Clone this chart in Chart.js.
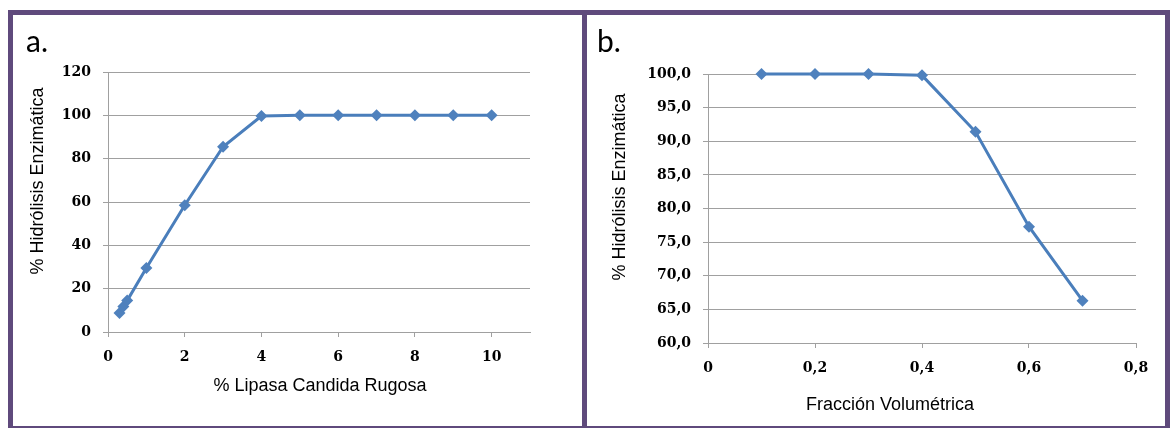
<!DOCTYPE html>
<html>
<head>
<meta charset="utf-8">
<script src="https://cdn.jsdelivr.net/npm/chart.js@4.4.1/dist/chart.umd.min.js"></script>
<style>
    html, body { margin: 0; padding: 0; background: #fff; }
    body { width: 1170px; height: 428px; position: relative; overflow: hidden; }
    .frame {
        position: absolute; left: 8px; top: 10px; width: 1162px; height: 421px;
        box-sizing: border-box; border: 5px solid #5f4a7c;
    }
    .divider { position: absolute; left: 582px; top: 10px; width: 5px; height: 420px; background: #5f4a7c; }
    .panel { position: absolute; top: 15px; height: 410px; }
    .tag { position: absolute; top: 22px; font-family: Lato, "Liberation Sans", sans-serif; font-size: 30px; color: #000; }
</style>
</head>
<body>
<div class="frame"></div>
<div class="divider"></div>
<div class="panel" style="left:13px;width:569px"><canvas id="chartA" width="569" height="410"></canvas></div>
<div class="panel" style="left:587px;width:579px"><canvas id="chartB" width="579" height="410"></canvas></div>
<div class="tag" style="left:26px">a.</div>
<div class="tag" style="left:597px">b.</div>
<script>
// panel a: % lipasa vs % hidrolisis
const lipasa = [0.3, 0.4, 0.5, 1, 2, 3, 4, 5, 6, 7, 8, 9, 10];
const hidrolisisA = [8.8, 11.8, 14.5, 29.5, 58.5, 85.5, 99.7, 100, 100, 100, 100, 100, 100];
const ticksAx = [0, 2, 4, 6, 8, 10];
const ticksAy = [0, 20, 40, 60, 80, 100, 120];

// panel b: fraccion volumetrica vs % hidrolisis
const fraccion = [0.1, 0.2, 0.3, 0.4, 0.5, 0.6, 0.7];
const hidrolisisB = [100, 100, 100, 99.8, 91.4, 77.3, 66.3];
const ticksBx = [0, 0.2, 0.4, 0.6, 0.8];
const ticksBy = [60, 65, 70, 75, 80, 85, 90, 95, 100];

const blue = '#4a7ebb';
const gridGray = '#a0a0a0';
const tickFont = { family: '"DejaVu Serif", serif', size: 14, weight: 'bold' };

// axis titles drawn at fixed spots, like the excel original
const axisTitles = {
    id: 'axisTitles',
    afterDraw(chart, args, opts) {
        const ctx = chart.ctx;
        ctx.save();
        ctx.font = '18px "Liberation Sans", Arial, sans-serif';
        ctx.fillStyle = '#000';
        ctx.textAlign = 'center';
        ctx.textBaseline = 'middle';
        ctx.fillText(opts.x.text, opts.x.cx, opts.x.cy);
        ctx.translate(opts.y.cx, opts.y.cy);
        ctx.rotate(-Math.PI / 2);
        ctx.fillText(opts.y.text, 0, 0);
        ctx.restore();
    }
};

function comma(v, dec) {
    return v === 0 ? '0' : v.toFixed(dec).replace('.', ',');
}

function makeChart(id, xs, ys, cfg) {
    const ctx = document.getElementById(id)?.getContext('2d');
    if (!ctx) return;

    const data = {
        datasets: [{
            data: xs.map((x, i) => ({ x: x, y: ys[i] })),
            borderColor: blue,
            backgroundColor: '#4f81bd',
            borderWidth: 3,
            pointStyle: 'rectRot',
            pointRadius: 6,
            pointBorderWidth: 0,
            tension: 0,
            clip: false
        }]
    };

    new Chart(ctx, {
        type: 'line',
        data: data,
        plugins: [axisTitles],
        options: {
            responsive: false,
            animation: false,
            layout: { padding: cfg.padding },
            plugins: {
                legend: { display: false },
                tooltip: { enabled: false },
                axisTitles: cfg.titles
            },
            scales: {
                x: {
                    type: 'linear',
                    min: cfg.xMin, max: cfg.xMax,
                    afterBuildTicks: s => { s.ticks = cfg.xTicks.map(v => ({ value: v })); },
                    afterFit: s => { s.height = cfg.xHeight; },
                    grid: { drawOnChartArea: false, drawTicks: true, tickLength: 5, color: gridGray },
                    border: { display: true, color: gridGray },
                    ticks: { font: tickFont, color: '#000', padding: 12, maxRotation: 0,
                        callback: v => comma(v, cfg.xDec) }
                },
                y: {
                    min: cfg.yMin, max: cfg.yMax,
                    afterBuildTicks: s => { s.ticks = cfg.yTicks.map(v => ({ value: v })); },
                    afterFit: s => { s.width = cfg.yWidth; },
                    grid: { drawOnChartArea: true, drawTicks: true, tickLength: 5, color: gridGray },
                    border: { display: true, color: gridGray },
                    ticks: { font: tickFont, color: '#000', padding: 12,
                        callback: v => comma(v, cfg.yDec) }
                }
            }
        }
    });
}

document.addEventListener('DOMContentLoaded', () => {
    makeChart('chartA', lipasa, hidrolisisA, {
        padding: { top: 57, right: 52, left: 0, bottom: 0 },
        xMin: 0, xMax: 11, xTicks: ticksAx, xDec: 0,
        yMin: 0, yMax: 120, yTicks: ticksAy, yDec: 0,
        xHeight: 93, yWidth: 95,
        titles: {
            x: { text: '% Lipasa Candida Rugosa', cx: 307, cy: 371 },
            y: { text: '% Hidrólisis Enzimática', cx: 25, cy: 166 }
        }
    });

    makeChart('chartB', fraccion, hidrolisisB, {
        padding: { top: 59, right: 30, left: 0, bottom: 0 },
        xMin: 0, xMax: 0.8, xTicks: ticksBx, xDec: 1,
        yMin: 60, yMax: 100, yTicks: ticksBy, yDec: 1,
        xHeight: 82, yWidth: 121,
        titles: {
            x: { text: 'Fracción Volumétrica', cx: 303, cy: 390 },
            y: { text: '% Hidrólisis Enzimática', cx: 33, cy: 172 }
        }
    });
});
</script>
</body>
</html>
